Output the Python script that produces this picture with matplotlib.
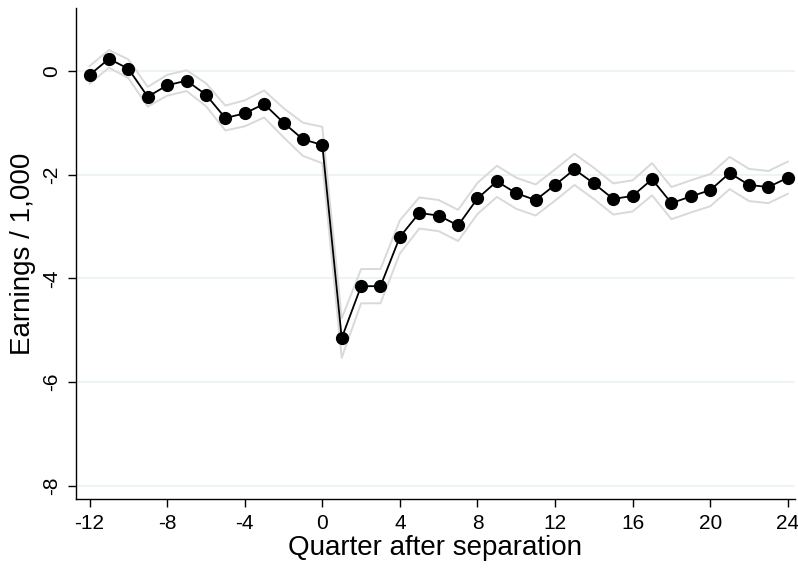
#!/usr/bin/env python3
import matplotlib
matplotlib.use("Agg")
import matplotlib.pyplot as plt  # type: ignore

quarters = list(range(-12, 25))
earnings = [
    -0.08, 0.23, 0.04, -0.50, -0.28, -0.19, -0.46, -0.91, -0.82, -0.64,
    -1.00, -1.32, -1.43, -5.15, -4.15, -4.15, -3.20, -2.74, -2.79, -2.98,
    -2.46, -2.13, -2.36, -2.49, -2.20, -1.90, -2.17, -2.47, -2.41, -2.09,
    -2.55, -2.42, -2.30, -1.97, -2.20, -2.24, -2.06,
]
ci_half = [
    0.17, 0.17, 0.18, 0.19, 0.20, 0.20, 0.22, 0.24, 0.25, 0.26,
    0.28, 0.32, 0.35, 0.38, 0.33, 0.33, 0.32, 0.30, 0.30, 0.30,
    0.30, 0.30, 0.30, 0.30, 0.30, 0.30, 0.30, 0.30, 0.30, 0.31,
    0.31, 0.31, 0.31, 0.31, 0.31, 0.31, 0.31,
]
x_ticks = [-12, -8, -4, 0, 4, 8, 12, 16, 20, 24]
y_ticks = [0, -2, -4, -6, -8]

plt.rcParams["font.family"] = ["Liberation Sans", "DejaVu Sans"]
plt.rcParams["axes.unicode_minus"] = False

fig = plt.figure(figsize=(7.98, 5.70), dpi=100)
ax = fig.add_axes([0.0952, 0.1246, 0.9008, 0.8614])

# confidence band drawn as two thin grey lines
upper = [e + h for e, h in zip(earnings, ci_half)]
lower = [e - h for e, h in zip(earnings, ci_half)]
ax.plot(quarters, upper, color="#d9d9d9", lw=1.4, zorder=2)
ax.plot(quarters, lower, color="#d9d9d9", lw=1.4, zorder=2)
ax.plot(quarters, earnings, color="black", lw=1.3, marker="o", ms=8.5, zorder=3)

ax.set_xlim(-12.7, 24.36)
ax.set_ylim(-8.25, 1.21)
ax.set_xticks(x_ticks)
ax.set_yticks(y_ticks)
ax.set_yticklabels([str(v) for v in y_ticks], rotation=90, va="center")
ax.grid(axis="y", color="#eaf2f3", lw=1.2, zorder=0)
ax.set_axisbelow(True)

for side in ["top", "right"]:
    ax.spines[side].set_visible(False)
for side in ["left", "bottom"]:
    ax.spines[side].set_linewidth(1.0)
ax.tick_params(direction="out", length=6, width=1, labelsize=15, pad=5)
ax.set_xlabel("Quarter after separation", fontsize=20, labelpad=1)
ax.set_ylabel("Earnings / 1,000", fontsize=20, labelpad=4)

fig.savefig("out.png", dpi=100)
